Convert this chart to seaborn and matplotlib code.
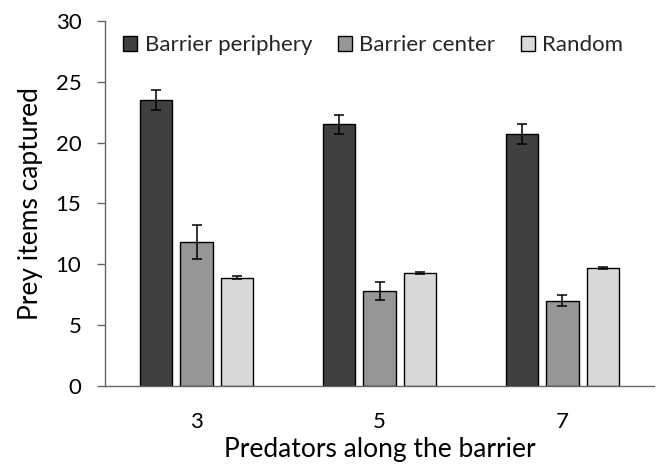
import matplotlib
matplotlib.use("Agg")
import matplotlib.pyplot as plt
import seaborn as sns
import pandas as pd
import numpy as np

predators = ["3", "5", "7"]
series = ["Barrier periphery", "Barrier center", "Random"]
periphery = [23.5, 21.5, 20.7]
center = [11.8, 7.8, 7.0]
random_ = [8.9, 9.3, 9.7]
periphery_err = [0.8, 0.75, 0.85]
center_err = [1.4, 0.75, 0.45]
random_err = [0.1, 0.08, 0.1]
colors = ["#404040", "#969696", "#d9d9d9"]

rows = []
for s, vals, errs in [(series[0], periphery, periphery_err),
                      (series[1], center, center_err),
                      (series[2], random_, random_err)]:
    for p, v, e in zip(predators, vals, errs):
        rows.append({"Predators": p, "Series": s, "Value": v, "Err": e})
df = pd.DataFrame(rows)

sns.set_theme(style="white")
plt.rcParams['font.family'] = ['Lato', 'DejaVu Sans']

fig = plt.figure(figsize=(6.63, 4.68), dpi=100)
ax = fig.add_axes([0.1584, 0.1752, 0.828, 0.78])

sns.barplot(data=df, x="Predators", y="Value", hue="Series", order=predators,
            hue_order=series, palette=colors, width=0.6675, gap=0.213,
            edgecolor="black", linewidth=1.0, errorbar=None, ax=ax)

# error bars at bar centers
for i, s in enumerate(series):
    cont = ax.containers[i]
    sub = df[df["Series"] == s].set_index("Predators").loc[predators]
    xs = [b.get_x() + b.get_width() / 2 for b in cont]
    ax.errorbar(xs, sub["Value"].values, yerr=sub["Err"].values, fmt="none",
                ecolor="black", elinewidth=1.1, capsize=3.6, capthick=1.1, zorder=5)

ax.set_ylim(0, 30)
ax.set_yticks([0, 5, 10, 15, 20, 25, 30])
ax.set_xlim(-0.5, 2.5)
for sp in ["top", "right"]:
    ax.spines[sp].set_visible(False)
for sp in ["left", "bottom"]:
    ax.spines[sp].set_color("#666666")
    ax.spines[sp].set_linewidth(1.0)
ax.tick_params(axis="y", which="both", left=True, length=6, width=1.0,
               color="#666666", labelsize=16, pad=11, labelcolor="black")
ax.tick_params(axis="x", bottom=False, labelsize=16, pad=13, labelcolor="black")
ax.set_xlabel("Predators along the barrier", fontsize=19, labelpad=3, color="black")
ax.set_ylabel("Prey items captured", fontsize=19, labelpad=9, color="black")

leg = ax.legend(loc="center left", bbox_to_anchor=(0.0328, 0.934), ncol=3, frameon=False,
                fontsize=16, handlelength=0.65, handleheight=0.65, handletextpad=0.32,
                columnspacing=1.15, borderaxespad=0, borderpad=0)
for h in leg.legend_handles:
    h.set_edgecolor("black")
    h.set_linewidth(1.0)

fig.savefig("out.png", dpi=100)
